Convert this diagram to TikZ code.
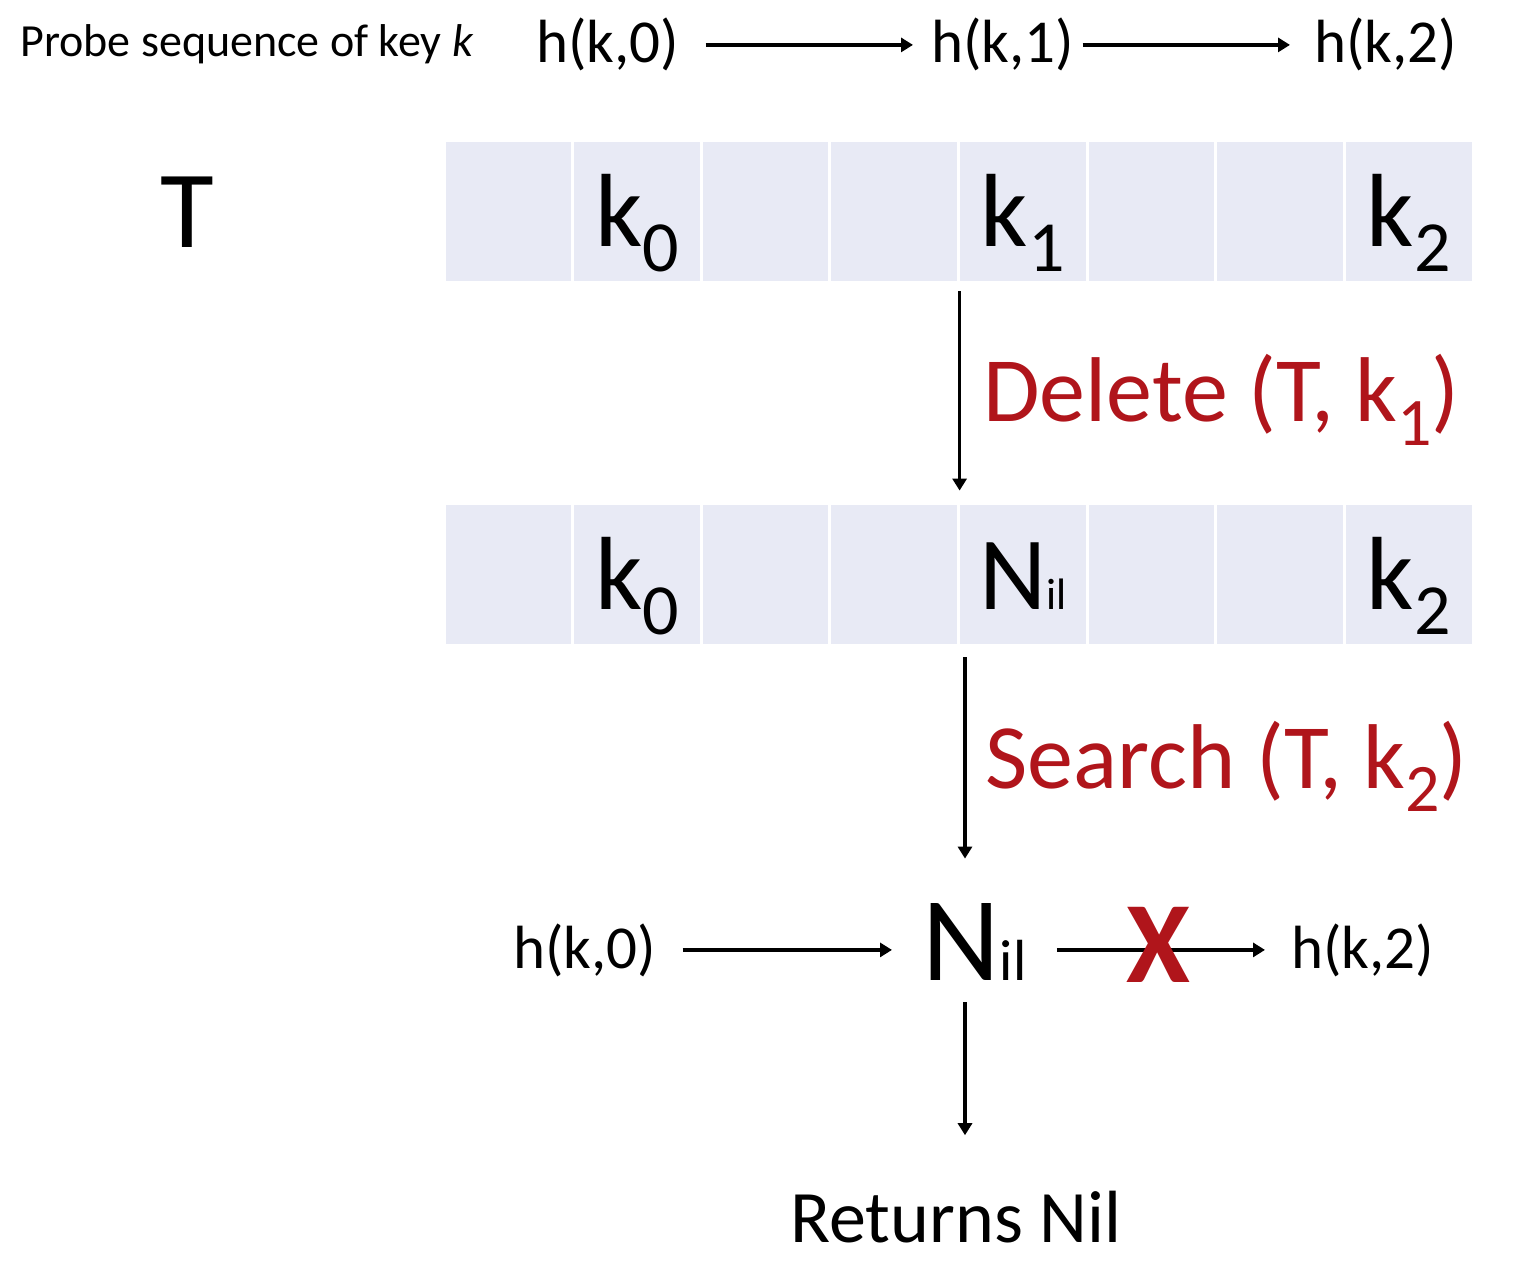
\documentclass[tikz,border=0pt]{standalone}
\usepackage{fontspec}
\setmainfont{Carlito}
\usetikzlibrary{arrows.meta}

\definecolor{cellfill}{RGB}{232,234,245}
\definecolor{opred}{RGB}{176,21,27}
\newcommand{\fsz}[1]{\fontsize{#1}{#1}\selectfont}
\newcommand{\lowsub}[3]{\raisebox{-#1}{\fsz{#2}#3}}

\tikzset{
  cell/.style={fill=cellfill, minimum width=62.8pt, minimum height=69.5pt, inner sep=0pt},
  celltext/.style={anchor=base, yshift=-17.5pt, inner sep=0pt, font=\fsz{52}},
  arr/.style={-{Triangle[length=6pt,width=7pt]}, line width=1.6pt},
  txt/.style={anchor=base west, inner sep=0pt},
}

\begin{document}
\begin{tikzpicture}[x=0.5pt, y=-0.5pt]
  \useasboundingbox (0,0) rectangle (1521,1261);
  % probe sequence
  \node[txt, font=\fsz{23}] (probe) at (20,57) {Probe sequence of key \textit{k}};
  \node[txt, font=\fsz{30.5}] (p0) at (536,63) {h(k,0)};
  \node[txt, font=\fsz{30.5}] (p1) at (931,63) {h(k,1)};
  \node[txt, font=\fsz{30.5}] (p2) at (1314,63) {h(k,2)};
  \draw[arr, shorten <=13pt, shorten >=9pt] (p0) -- (p1);
  \draw[arr, shorten <=4pt, shorten >=12pt] (p1) -- (p2);
  %
  \node[txt, font=\fsz{55}] (T) at (160,248) {T};
  % table before delete
  \node[cell] (c1-1) at (508.3,211.5) {};
  \node[cell] (c1-2) at (636.9,211.5) {};
  \node[cell] (c1-3) at (765.6,211.5) {};
  \node[cell] (c1-4) at (894.2,211.5) {};
  \node[cell] (c1-5) at (1022.8,211.5) {};
  \node[cell] (c1-6) at (1151.4,211.5) {};
  \node[cell] (c1-7) at (1280.1,211.5) {};
  \node[cell] (c1-8) at (1408.7,211.5) {};
  \node[celltext] (k0a) at (c1-2.center) {k\lowsub{12.5pt}{36}{0}};
  \node[celltext] (k1a) at (c1-5.center) {k\lowsub{12.5pt}{36}{1}};
  \node[celltext] (k2a) at (c1-8.center) {k\lowsub{12.5pt}{36}{2}};
  % table after delete
  \node[cell] (c2-1) at (508.3,574.5) {};
  \node[cell] (c2-2) at (636.9,574.5) {};
  \node[cell] (c2-3) at (765.6,574.5) {};
  \node[cell] (c2-4) at (894.2,574.5) {};
  \node[cell] (c2-5) at (1022.8,574.5) {};
  \node[cell] (c2-6) at (1151.4,574.5) {};
  \node[cell] (c2-7) at (1280.1,574.5) {};
  \node[cell] (c2-8) at (1408.7,574.5) {};
  \node[celltext] (k0b) at (c2-2.center) {k\lowsub{12.5pt}{36}{0}};
  \node[celltext] (nilb) at (c2-5.center) {N{\fsz{22}il}};
  \node[celltext] (k2b) at (c2-8.center) {k\lowsub{12.5pt}{36}{2}};
  %
  \draw[arr, shorten <=5pt, shorten >=7pt] (c1-5.south west) -- (c2-5.north west);
  \node[txt, text=opred, font=\fsz{46}] (del) at (983,422) {Delete (T, k\lowsub{12pt}{34}{1})};
  % search
  \coordinate (axis) at (965,0);
  \node[txt, font=\fsz{30.5}] (b0) at (513,968) {h(k,0)};
  \node[txt, font=\fsz{60}] (nil) at (922,980) {N{\fsz{29}il}};
  \node[txt, font=\fsz{30.5}] (b2) at (1291,968) {h(k,2)};
  \node[anchor=base, inner sep=0pt, font=\fsz{37}] (ret) at (956,1242) {Returns Nil};
  \draw[arr, shorten <=6.5pt, shorten >=22pt] (axis |- c2-5.south) -- (axis |- nil.north);
  \node[txt, text=opred, font=\fsz{46}] (srch) at (985,788) {Search (T, k\lowsub{11.5pt}{34}{2})};
  \draw[arr, shorten <=13pt, shorten >=15pt] (b0.east) -- (b0.east -| nil.west);
  \draw[arr, shorten <=15pt, shorten >=13pt] (nil.east |- b2.west) -- (b2.west);
  \node[inner sep=0pt, text=opred, font=\bfseries\fsz{58}] (cross) at (1158,945) {X};
  \draw[arr, shorten <=11pt, shorten >=27.5pt] (axis |- nil.south) -- (axis |- ret.north);
\end{tikzpicture}
\end{document}
